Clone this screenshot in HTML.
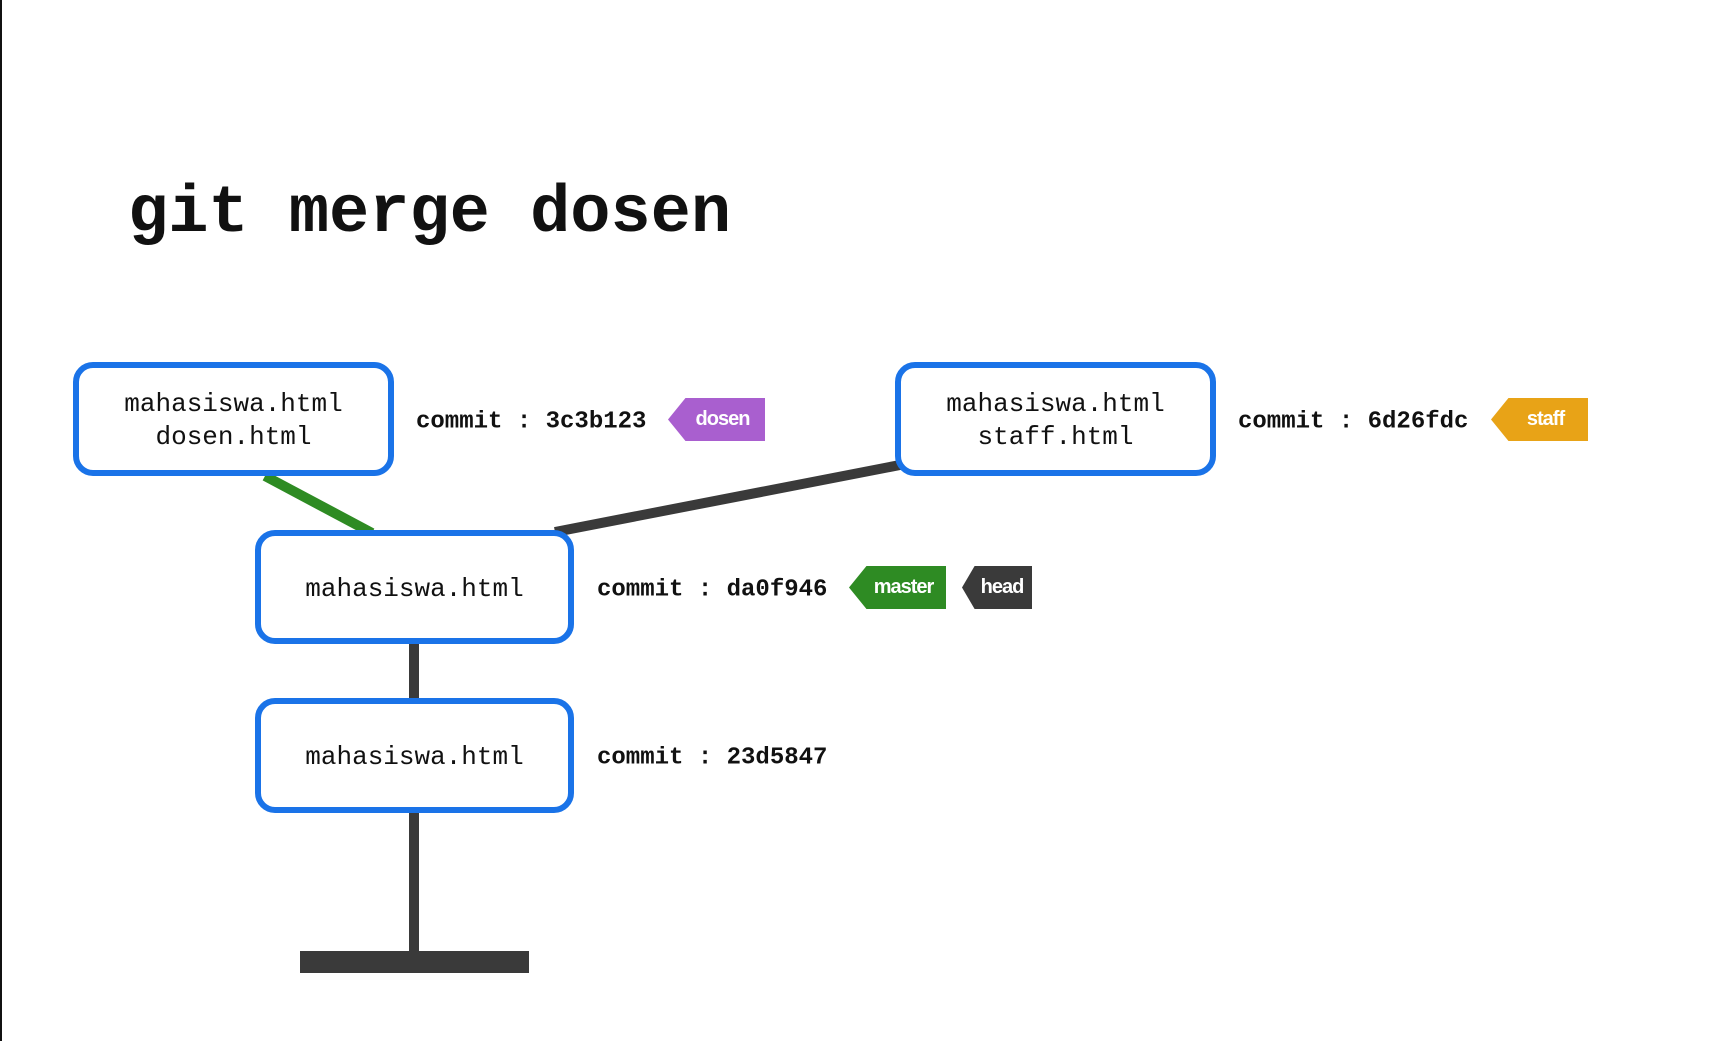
<!DOCTYPE html>
<html><head><meta charset="utf-8"><style>
body{margin:0;width:1729px;height:1041px;background:#fff;position:relative;overflow:hidden;font-family:"Liberation Mono",monospace}
.lb{position:absolute;left:0;top:0;width:2px;height:1041px;background:#111}
.title{position:absolute;left:128px;top:176px;font-size:67px;font-weight:bold;color:#111;letter-spacing:0px}
.box{position:absolute;box-sizing:border-box;border:6px solid #1a73e8;border-radius:20px;background:#fff;display:flex;align-items:center;justify-content:center;text-align:center;font-size:26px;line-height:33px;color:#111;padding-top:4px}
.c{position:absolute;font-size:24px;font-weight:bold;color:#111;white-space:pre;transform:translateY(-50%)}
.tag{position:absolute;color:#fff;font-family:"Liberation Sans",sans-serif;font-weight:bold;font-size:20px;display:flex;align-items:center;justify-content:center;clip-path:polygon(0 50%,18% 0,100% 0,100% 100%,18% 100%);padding-left:12px;box-sizing:border-box;letter-spacing:-1px}
</style></head><body>
<div class="lb"></div>
<div class="title">git merge dosen</div>
<svg width="1729" height="1041" style="position:absolute;left:0;top:0">
<line x1="265" y1="476" x2="372" y2="533" stroke="#2e8b23" stroke-width="10"/>
<line x1="555" y1="532" x2="900" y2="465" stroke="#3a3a3a" stroke-width="10"/>
<line x1="414" y1="640" x2="414" y2="700" stroke="#3a3a3a" stroke-width="10"/>
<line x1="414" y1="810" x2="414" y2="955" stroke="#3a3a3a" stroke-width="10"/>
<rect x="300" y="951" width="229" height="22" fill="#3a3a3a"/>
</svg>
<div class="box" style="left:73px;top:362px;width:321px;height:114px">mahasiswa.html<br>dosen.html</div>
<div class="box" style="left:895px;top:362px;width:321px;height:114px">mahasiswa.html<br>staff.html</div>
<div class="box" style="left:255px;top:530px;width:319px;height:114px">mahasiswa.html</div>
<div class="box" style="left:255px;top:698px;width:319px;height:115px">mahasiswa.html</div>
<div class="c" style="left:416px;top:422px">commit : 3c3b123</div>
<div class="c" style="left:1238px;top:422px">commit : 6d26fdc</div>
<div class="c" style="left:597px;top:590px">commit : da0f946</div>
<div class="c" style="left:597px;top:758px">commit : 23d5847</div>
<div class="tag" style="left:668px;top:398px;width:97px;height:43px;background:#a95fcf">dosen</div>
<div class="tag" style="left:1491px;top:398px;width:97px;height:43px;background:#e8a317">staff</div>
<div class="tag" style="left:849px;top:566px;width:97px;height:43px;background:#2e8b23">master</div>
<div class="tag" style="left:962px;top:566px;width:70px;height:43px;background:#3a3a3a;padding-left:10px">head</div>
</body></html>
